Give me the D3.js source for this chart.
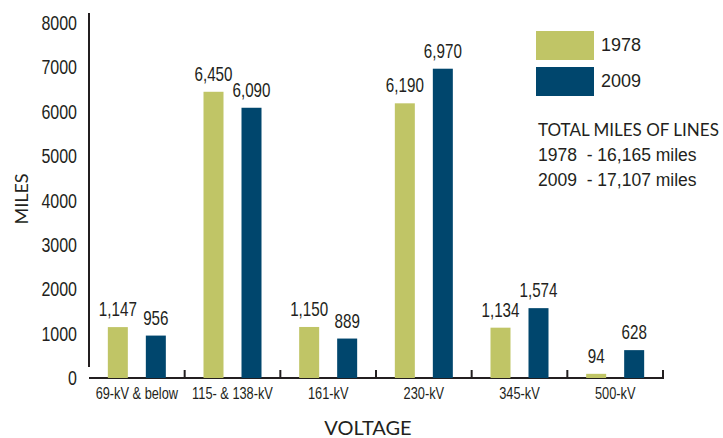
<!DOCTYPE html>
<html>
<head>
    <style>
        body { margin: 0; background: #fff; }
        text { fill: #231f20; }
        .narrow { font-family: "Liberation Sans", Arial, sans-serif; }
        .geo { font-family: Lato, "DejaVu Sans", sans-serif; }
    </style>
    <script src="https://cdnjs.cloudflare.com/ajax/libs/d3/7.8.5/d3.min.js"></script>
</head>
<body>
    <svg id="chart"></svg>
    <script>
        const categories = ["69-kV & below", "115- & 138-kV", "161-kV", "230-kV", "345-kV", "500-kV"];
        const years = ["1978", "2009"];
        const miles1978 = [1147, 6450, 1150, 6190, 1134, 94];
        const miles2009 = [956, 6090, 889, 6970, 1574, 628];
        const yTicks = [0, 1000, 2000, 3000, 4000, 5000, 6000, 7000, 8000];
        const totals = ["1978  - 16,165 miles", "2009  - 17,107 miles"];
        const colors = ["#c0c566", "#00466d"];

        const width = 723, height = 438;
        const svg = d3.select("#chart").attr("width", width).attr("height", height);

        const x = d3.scaleBand().domain(categories).range([89, 663]);
        const sub = d3.scalePoint().domain(years).range([-19, 19]);
        const y = d3.scaleLinear().domain([0, 8000]).range([378, 23]);
        const barW = 20;

        // condensed look: squeeze a normal font horizontally
        const squeeze = (px, py, s) => `translate(${px},${py}) scale(${s},1)`;

        const rows = [];
        categories.forEach((c, i) => {
            rows.push({ cat: c, year: "1978", value: miles1978[i] });
            rows.push({ cat: c, year: "2009", value: miles2009[i] });
        });

        // y axis
        svg.append("line").attr("x1", 89).attr("x2", 89).attr("y1", 13).attr("y2", 367)
            .attr("stroke", "#231f20").attr("stroke-width", 2);
        svg.append("g").selectAll("text").data(yTicks).enter().append("text")
            .attr("class", "narrow")
            .attr("transform", d => squeeze(77, y(d), 0.8))
            .attr("dy", "0.35em")
            .attr("text-anchor", "end")
            .attr("font-size", 20)
            .text(d => d);

        // x axis
        svg.append("line").attr("x1", 89).attr("x2", 664).attr("y1", 378).attr("y2", 378)
            .attr("stroke", "#231f20").attr("stroke-width", 2);
        const bounds = categories.slice(1).map(c => x(c)).concat([x.range()[1]]);
        svg.append("g").selectAll("line").data(bounds).enter().append("line")
            .attr("x1", d => d).attr("x2", d => d).attr("y1", 370).attr("y2", 378)
            .attr("stroke", "#231f20").attr("stroke-width", 2);
        svg.append("g").selectAll("text").data(categories).enter().append("text")
            .attr("class", "narrow")
            .attr("transform", d => squeeze(x(d) + x.bandwidth() / 2, 393, 0.8))
            .attr("dy", "0.35em")
            .attr("text-anchor", "middle")
            .attr("font-size", 16)
            .text(d => d);

        // bars
        svg.append("g").selectAll("rect").data(rows).enter().append("rect")
            .attr("x", d => x(d.cat) + x.bandwidth() / 2 + sub(d.year) - barW / 2)
            .attr("y", d => y(d.value))
            .attr("width", barW)
            .attr("height", d => y(0) - y(d.value))
            .attr("fill", d => colors[years.indexOf(d.year)]);

        svg.append("g").selectAll("text").data(rows).enter().append("text")
            .attr("class", "narrow")
            .attr("transform", d => squeeze(x(d.cat) + x.bandwidth() / 2 + sub(d.year), y(d.value) - 11, 0.76))
            .attr("text-anchor", "middle")
            .attr("font-size", 20)
            .text(d => d3.format(",")(d.value));

        // axis titles
        svg.append("text").attr("class", "geo")
            .attr("x", 368).attr("y", 435)
            .attr("text-anchor", "middle")
            .attr("font-size", 20)
            .text("VOLTAGE");
        svg.append("text").attr("class", "geo")
            .attr("transform", "translate(28,199) rotate(-90)")
            .attr("text-anchor", "middle")
            .attr("font-size", 18)
            .text("MILES");

        // legend
        const legend = svg.append("g");
        years.forEach((yr, i) => {
            legend.append("rect").attr("x", 536).attr("y", 31 + i * 36)
                .attr("width", 58).attr("height", 29).attr("fill", colors[i]);
            legend.append("text").attr("x", 601).attr("y", 45 + i * 36)
                .attr("dy", "0.35em")
                .attr("font-family", "'Liberation Sans', Arial, sans-serif")
                .attr("font-size", 18)
                .text(yr);
        });
        legend.append("text").attr("class", "geo")
            .attr("x", 538).attr("y", 136)
            .attr("font-size", 17)
            .text("TOTAL MILES OF LINES");
        totals.forEach((t, i) => {
            legend.append("text").attr("x", 538).attr("y", 161 + i * 25)
                .attr("font-family", "'Liberation Sans', Arial, sans-serif")
                .attr("font-size", 17.5)
                .style("white-space", "pre")
                .text(t);
        });
    </script>
</body>
</html>
